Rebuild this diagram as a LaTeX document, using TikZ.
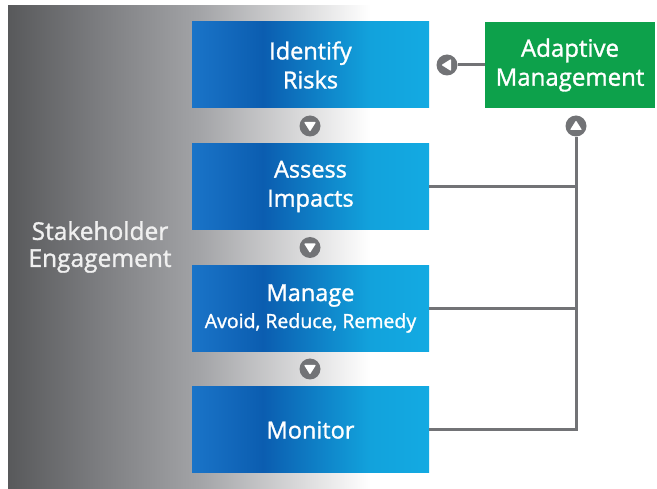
\documentclass[tikz,border=0pt]{standalone}
\usepackage{fontspec}
\setmainfont{Open Sans}[FakeBold=1.3]
\definecolor{g0}{HTML}{58595B}
\definecolor{g1}{HTML}{7C7D80}
\definecolor{g2}{HTML}{A3A4A7}
\definecolor{g3}{HTML}{DADADB}
\definecolor{bL}{HTML}{1A74C8}
\definecolor{bD}{HTML}{0B5DB0}
\definecolor{bM}{HTML}{12A2DC}
\definecolor{bR}{HTML}{13AAE2}
\definecolor{amgreen}{HTML}{0DA14B}
\definecolor{conngray}{HTML}{727376}
\pgfdeclarehorizontalshading{graybg}{100bp}{color(0bp)=(g0); color(25bp)=(g0); color(37.5bp)=(g1); color(51.5bp)=(g2); color(65.5bp)=(g3); color(75bp)=(white); color(100bp)=(white)}
\pgfdeclarehorizontalshading{bluebox}{100bp}{color(0bp)=(bL); color(25bp)=(bL); color(40bp)=(bD); color(62.5bp)=(bM); color(75bp)=(bR); color(100bp)=(bR)}
\tikzset{
  box/.style={minimum width=237pt, minimum height=86pt, inner sep=0pt, align=center,
    text=white, font=\fontsize{23.5}{29}\selectfont, shading=bluebox},
  greenbox/.style={minimum width=170pt, minimum height=86pt, inner sep=0pt, align=center,
    text=white, font=\fontsize{24}{29}\selectfont, fill=amgreen},
  circ/.style={circle, fill=conngray, minimum size=21pt, inner sep=0pt},
  conn/.style={draw=conngray, line width=3pt},
  tri/.style={fill=white, rounded corners=0.8pt}
}
\begin{document}
\begin{tikzpicture}[x=1pt,y=-1pt]
\useasboundingbox (0,0) rectangle (657,489);
\fill[shading=graybg] (8,6) rectangle (370,489);
\node[align=center, text=white!94!black, font=\fontsize{24.5}{27}\selectfont] (se) at (100,247) {Stakeholder\\Engagement};
\node[box] (id) at (310.5,65) {Identify\\Risks};
\node[box] (as) at (310.5,186.5) {Assess\\Impacts};
\node[box] (ma) at (310.5,308.5) {Manage\\[-2pt]{\fontsize{19.5}{20}\selectfont Avoid, Reduce, Remedy}};
\node[box] (mo) at (310.5,430) {Monitor};
\node[greenbox] (am) at (570,65) {Adaptive\\Management};
% down arrows between steps
\node[circ] (d1) at (310,126) {};
\node[circ] (d2) at (310,247.5) {};
\node[circ] (d3) at (310,369) {};
\foreach \c in {d1,d2,d3}{
  \fill[tri] (\c.center) ++(-6,-4) -- ++(12,0) -- ++(-6,9.5) -- cycle;
}
% feedback arrows
\node[circ] (lc) at (447,65) {};
\fill[tri] (lc.center) ++(4,-6) -- ++(0,12) -- ++(-9.5,-6) -- cycle;
\node[circ] (uc) at (576,126) {};
\fill[tri] (uc.center) ++(-6,4) -- ++(12,0) -- ++(-6,-9.5) -- cycle;
\coordinate (bot) at (uc |- mo.east);
\draw[conn] (am.west) -- (lc.east);
\draw[conn] (uc.south) -- (bot) -- (mo.east);
\draw[conn] (as.east) -- (as.east -| uc.center);
\draw[conn] (ma.east) -- (ma.east -| uc.center);
\end{tikzpicture}
\end{document}
